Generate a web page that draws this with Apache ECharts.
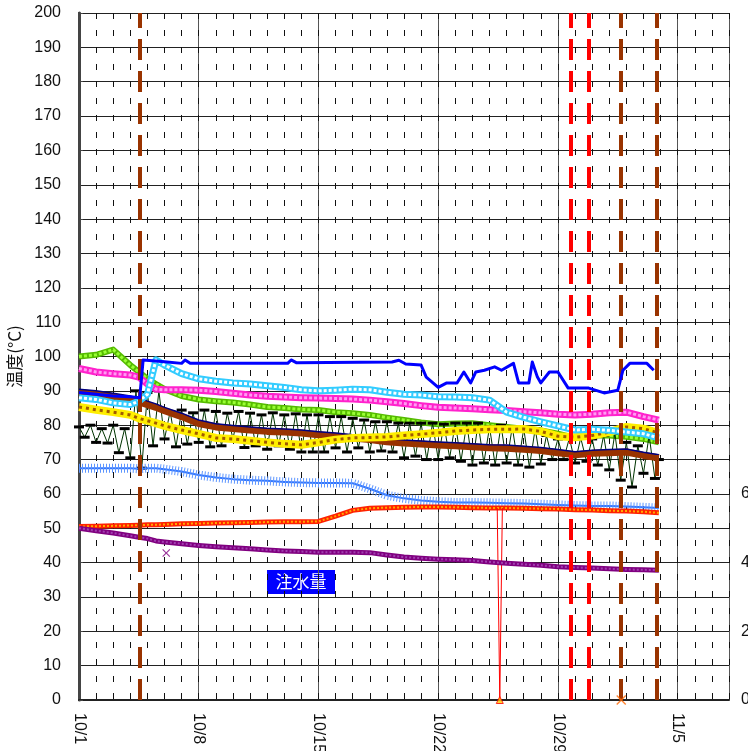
<!DOCTYPE html>
<html>
<head>
<meta charset="utf-8">
<script src="https://cdn.jsdelivr.net/npm/echarts@6/dist/echarts.min.js"></script>
<style>
  html, body { margin: 0; padding: 0; background: #fff; }
  #chart { width: 748px; height: 751px; }
</style>
</head>
<body>
<div id="chart"></div>
<script>
// ====== Data (days counted from 10/1) ======
const xTickLabels = ['10/1', '10/8', '10/15', '10/22', '10/29', '11/5'];

const days = [0, 1, 2, 3, 3.5, 4, 4.5, 5, 6, 7, 8, 9, 10, 11, 12, 13, 14, 15, 16, 17,
  18, 19, 20, 21, 22, 23, 24, 25, 26, 27, 28, 29, 30, 31, 32, 33, 33.9];

const cyanVals = [88, 87.5, 86.5, 86, 87, 89, 99, 97.5, 95, 93.5, 92.8, 92.3, 92, 91.5, 91, 90.3, 90, 90.2, 90.5, 90.3,
  89.6, 89, 88.8, 88.3, 88.2, 88, 87.3, 83.8, 82.3, 81, 79.8, 78.6, 78.8, 78.5, 78, 77.5, 76.3];
const magentaVals = [96.5, 95.5, 95, 94.6, 94, 92, 90.5, 90.3, 90.3, 90.2, 89.8, 89.3, 88.8, 88.4, 88.2, 88, 87.9, 87.8, 87.6, 87.3,
  86.8, 86.3, 85.7, 85.2, 85, 84.8, 84.5, 84.3, 83.9, 83.6, 83.2, 83, 83.2, 83.6, 83.8, 82.5, 81.5];
const greenVals = [100, 100.5, 102, 97.5, 95.5, 93.5, 92, 90.5, 88.5, 87.5, 87, 86.6, 86, 85.3, 85, 84.6, 84.4, 83.8, 83.5, 83,
  82.2, 81.5, 80.8, 80.3, 80.5, 80.6, 80, 79.5, 79, 78.5, 77.5, 76.3, 77, 77, 76.6, 76, 75];
const yellowVals = [85.3, 84.5, 83.8, 83, 82, 81.3, 80.6, 79.8, 78.6, 77.5, 76.3, 76, 75.5, 75, 74.6, 74.3, 75, 75.8, 76.3, 76.4,
  76.6, 77, 77.4, 77.8, 78.3, 78.6, 78.8, 78.8, 78.9, 78.2, 76.8, 76.5, 77, 78, 79.5, 79, 77.7];
const brownVals = [89.5, 89, 88.3, 87.5, 86.8, 86, 85.2, 84.2, 82.5, 80.5, 79.5, 79, 78.6, 78.2, 78, 77.7, 77.2, 76.8, 76.3, 75.8,
  75.2, 74.8, 74.5, 74.2, 74, 73.7, 73.4, 73.3, 73, 72.6, 72, 71.4, 71.8, 72, 72.2, 71.2, 70.5];
const navyVals = [90.5, 90, 89.3, 88.5, 87.8, 87, 86.2, 85.2, 83.5, 81.5, 80.4, 79.9, 79.5, 79.1, 78.9, 78.6, 78.1, 77.7, 77.2, 76.7,
  76.1, 75.7, 75.4, 75.1, 74.9, 74.6, 74.3, 74.2, 73.9, 73.5, 72.9, 72.3, 72.7, 72.9, 73.1, 72.1, 71.4];
const lightBlueVals = [67.5, 67.5, 67.5, 67.5, 67.3, 67.5, 67.5, 67.2, 66.5, 65.5, 64.8, 64.3, 64, 63.8, 63.5, 63.3, 63.2, 63.2, 63.1, 61.5,
  59.6, 58.7, 58.1, 57.7, 57.5, 57.5, 57.4, 57.3, 57.2, 57, 56.8, 56.6, 56.5, 56.5, 56.3, 56.1, 55.9];
const redVals = [50.5, 50.6, 50.7, 50.8, 50.9, 51, 51, 51.1, 51.3, 51.4, 51.5, 51.6, 51.7, 51.8, 51.9, 51.9, 52, 53.5, 55.2, 55.8,
  56, 56.1, 56.2, 56.2, 56.1, 56, 55.9, 55.9, 55.8, 55.7, 55.6, 55.4, 55.3, 55.1, 55, 54.8, 54.5];
const purpleVals = [50, 49.3, 48.6, 47.8, 47.4, 47, 46.3, 46, 45.5, 45, 44.6, 44.3, 44, 43.7, 43.4, 43.2, 43, 43, 43, 42.9,
  42.2, 41.6, 41.3, 41, 40.8, 40.6, 40.2, 39.8, 39.5, 39.2, 38.8, 38.6, 38.4, 38.2, 38, 37.9, 37.8];

// blue line (irregular sampling)
const blueDays = [0, 1, 2, 3, 3.55, 3.75, 5, 6, 6.2, 6.5, 10, 12.2, 12.4, 12.7, 18.3, 18.7, 19.1, 20, 20.3, 21, 21.5, 22.1,
  22.5, 22.9, 23.2, 23.7, 24.3, 24.7, 25.4, 25.7, 26.3, 26.5, 26.8, 27.0, 27.5, 28.0, 28.6, 29.8, 30.7, 31.5, 31.8, 32.2, 33.2, 33.6];
const blueVals = [89.5, 89, 88.5, 88.3, 88, 99, 98.5, 98, 99, 98, 98, 98, 99, 98.2, 98.4, 98.9, 97.8, 97.5, 94, 91, 92.3, 92.3,
  95.5, 92.3, 95.5, 96, 97, 96, 98, 92.3, 92.3, 98.4, 94, 92.3, 95.5, 95.5, 90.8, 90.8, 89.4, 90.2, 96, 98, 98, 96];

// black jittery series (three samples per day)
const blackDays = [
  0, 0.33, 0.67, 1, 1.33, 1.67, 2, 2.33, 2.67, 3, 3.33, 3.67, 4, 4.33, 4.67, 5, 5.33, 5.67,
  6, 6.33, 6.67, 7, 7.33, 7.67, 8, 8.33, 8.67, 9, 9.33, 9.67, 10, 10.33, 10.67, 11, 11.33, 11.67,
  12, 12.33, 12.67, 13, 13.33, 13.67, 14, 14.33, 14.67, 15, 15.33, 15.67, 16, 16.33, 16.67, 17, 17.33, 17.67,
  18, 18.33, 18.67, 19, 19.33, 19.67, 20, 20.33, 20.67, 21, 21.33, 21.67, 22, 22.33, 22.67, 23, 23.33, 23.67,
  24, 24.33, 24.67, 25, 25.33, 25.67, 26, 26.33, 26.67, 27, 27.33, 27.67, 28, 28.33, 28.67, 29, 29.33, 29.67,
  30, 30.33, 30.67, 31, 31.33, 31.67, 32, 32.33, 32.67, 33, 33.33, 33.67, 33.9];
const blackVals = [
  79.5, 76.5, 80, 75, 79, 74.8, 80, 72, 79, 70.5, 90, 67.5, 89.5, 74, 90, 76, 84, 73.7,
  84.4, 74.5, 83.6, 75, 84.4, 73.7, 84, 74, 83.5, 76, 84, 73.5, 83.5, 74, 83, 73, 83.6, 74,
  83, 73, 83.3, 72.2, 83, 72.2, 83, 72.2, 82.5, 73.4, 82.5, 72.2, 82, 73.4, 81.5, 72.2, 81, 72.5,
  81, 72.2, 80.6, 70.5, 80.6, 71, 80.6, 70, 80.6, 70, 80.3, 70.5, 80.6, 69.5, 80.6, 68.4, 80.6, 69,
  79.5, 68.4, 80, 69, 79.5, 68.4, 79, 67.8, 79, 68.7, 77, 70, 76, 70, 76.3, 69, 76.3, 69.5,
  76, 68.4, 77, 67, 77.7, 64, 75, 62, 74, 66, 77, 64.5, 70];

// red drop to zero, odd purple point, orange mark at zero
const redDropDays = [24.45, 24.6, 24.75];
const redDropVals = [55.9, 0, 55.9];
const purpleOddDays = [5.1];
const purpleOddVals = [42.8];
const orangeDays = [31.7];
const orangeVals = [0];

// event lines
const redEventDays = [28.76, 29.8];
const brownEventDays = [3.57, 31.7, 33.8];

const pair = (xs, ys) => xs.map((x, i) => [x, ys[i]]);

const xPath = 'path://M0,1 L1,0 L5,4 L9,0 L10,1 L6,5 L10,9 L9,10 L5,6 L1,10 L0,9 L4,5 Z';

// plain line
function line(data, color, width, z, dash) {
  return {
    type: 'line', data, symbol: 'none',
    lineStyle: { color, width, type: dash || 'solid', cap: 'butt', join: 'round' },
    z: z || 2
  };
}

// dense-marker look: a thick band plus a dashed stripe on top
function band(data, baseColor, baseWidth, topColor, topWidth, dash, z) {
  return [line(data, baseColor, baseWidth, z), line(data, topColor, topWidth, z, dash)];
}

const chart = echarts.init(document.getElementById('chart'));

const option = {
  animation: false,
  backgroundColor: '#fff',
  grid: { left: 79, right: 19, top: 13, bottom: 51, outerBoundsMode: 'none', containLabel: false },
  xAxis: [
    {
      type: 'value', min: 0, max: 38, interval: 7,
      axisLine: { lineStyle: { color: '#222', width: 2 } },
      axisTick: { show: false },
      axisLabel: {
        rotate: -90, fontSize: 16, color: '#111', margin: 13, fontFamily: 'Liberation Sans',
        formatter: v => xTickLabels[v / 7] || ''
      },
      splitLine: { show: true, lineStyle: { color: '#555', width: 1 } }
    },
    {
      type: 'value', min: 0, max: 38, interval: 1,
      axisLine: { show: false }, axisTick: { show: false }, axisLabel: { show: false },
      splitLine: { show: true, lineStyle: { color: '#111', width: 1, type: [6, 11] } }
    }
  ],
  yAxis: [
    {
      type: 'value', min: 0, max: 200, interval: 10,
      name: '温度(°C)', nameLocation: 'middle', nameGap: 50, nameRotate: 90,
      nameTextStyle: { fontSize: 17, color: '#111', fontFamily: 'Noto Sans CJK JP' },
      axisLine: { show: true, lineStyle: { color: '#111', width: 2 } },
      axisTick: { show: false },
      axisLabel: { fontSize: 16, color: '#111', margin: 18, fontFamily: 'Liberation Sans' },
      splitLine: { show: true, lineStyle: { color: '#222', width: 1 } }
    },
    {
      type: 'value', position: 'right', min: 0, max: 200, interval: 20,
      axisLine: { show: true, lineStyle: { color: '#444', width: 3 } },
      axisTick: { show: true, length: 4, lineStyle: { color: '#444' } },
      axisLabel: {
        fontSize: 16, color: '#111', margin: 12, fontFamily: 'Liberation Sans',
        formatter: v => (v <= 60 ? String(v) : '')
      },
      splitLine: { show: false }
    }
  ],
  graphic: [
    {
      type: 'group', left: 267, top: 570,
      children: [
        { type: 'rect', shape: { x: 0, y: 0, width: 68, height: 24 }, style: { fill: '#0000FF' } },
        {
          type: 'text', x: 34, y: 12,
          style: { text: '注水量', fill: '#fff', fontSize: 17, align: 'center', verticalAlign: 'middle',
            fontFamily: 'Noto Sans CJK JP' }
        }
      ]
    }
  ],
  series: [
    ...band(pair(days, greenVals), '#55BB00', 6, '#99FF33', 3, [3, 2], 2),
    {
      type: 'line', data: pair(blackDays, blackVals),
      symbol: 'rect', symbolSize: [10, 3], showAllSymbol: true,
      lineStyle: { color: '#003300', width: 1 }, itemStyle: { color: '#000' }, z: 3
    },
    line(pair(days, brownVals), '#993300', 7, 4),
    line(pair(days, navyVals), '#000080', 1.5, 4),
    ...band(pair(days, yellowVals), '#FFEE00', 8, '#A05A00', 3, [3, 4], 4),
    ...band(pair(days, magentaVals), '#FF22CC', 7, '#FF9CF2', 3, [3, 2], 4),
    ...band(pair(days, cyanVals), '#33CCFF', 7, '#FFFFFF', 3, [3, 2], 4),
    line(pair(blueDays, blueVals), '#0000FF', 3, 5),
    ...band(pair(days, lightBlueVals), '#3377FF', 2, '#5C95FF', 9, [1, 2], 4),
    ...band(pair(days, redVals), '#FF2200', 5, '#FFAA00', 2, [2, 2], 4),
    line(pair(redDropDays, redDropVals), '#FF0000', 1, 4),
    {
      type: 'scatter', data: pair(redDropDays, redDropVals).filter(p => p[1] === 0),
      symbol: 'triangle', symbolSize: 7,
      itemStyle: { color: '#FFCC00', borderColor: '#FF0000', borderWidth: 1 }, z: 4
    },
    ...band(pair(days, purpleVals), '#800080', 5, '#A040B0', 2, [2, 2], 4),
    {
      type: 'scatter', data: pair(purpleOddDays, purpleOddVals),
      symbol: xPath, symbolSize: 8, itemStyle: { color: '#800080' }, z: 4
    },
    {
      type: 'scatter', data: pair(orangeDays, orangeVals),
      symbol: xPath, symbolSize: 10, itemStyle: { color: '#FF6600' }, z: 6
    },
    {
      type: 'line', data: [], z: 10,
      markLine: {
        silent: true, symbol: 'none', label: { show: false },
        data: redEventDays.map(d => ({ xAxis: d, lineStyle: { color: '#FF0000', type: [21, 11], width: 4 } }))
          .concat(brownEventDays.map(d => ({ xAxis: d, lineStyle: { color: '#993300', type: [21, 11], width: 4 } })))
      }
    }
  ]
};

chart.setOption(option);
</script>
</body>
</html>
